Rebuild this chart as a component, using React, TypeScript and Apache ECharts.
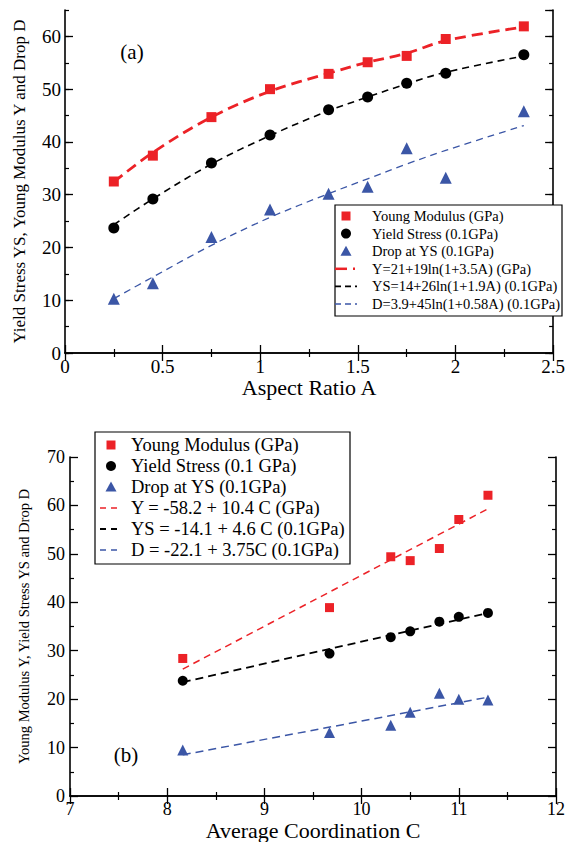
import React, { useEffect, useRef } from "react";
import * as echarts from "echarts";

// ---- Panel (a): vs aspect ratio A ----
const aspectRatio = [0.25, 0.45, 0.75, 1.05, 1.35, 1.55, 1.75, 1.95, 2.35];
const youngA = [32.5, 37.4, 44.7, 50.0, 52.9, 55.1, 56.3, 59.5, 61.9];
const yieldA = [23.7, 29.2, 36.0, 41.3, 46.1, 48.5, 51.1, 53.0, 56.5];
const dropA = [10.3, 13.2, 22.0, 27.2, 30.2, 31.5, 38.8, 33.2, 45.8];
const youngFitA = [32.4, 38.0, 44.7, 49.6, 53.0, 55.1, 56.8, 59.2, 61.8];
const yieldFitA = [24.3, 29.2, 35.8, 41.2, 45.9, 48.5, 51.0, 53.2, 56.3];
const dropFitA = [10.3, 14.4, 20.4, 25.7, 30.2, 33.0, 35.8, 38.4, 43.1];

// ---- Panel (b): vs average coordination C ----
const coordC = [8.16, 9.67, 10.3, 10.5, 10.8, 11.0, 11.3];
const youngC = [28.4, 38.9, 49.4, 48.6, 51.1, 57.1, 62.1];
const yieldC = [23.8, 29.4, 32.8, 34.0, 36.0, 37.0, 37.8];
const dropC = [9.5, 13.1, 14.6, 17.3, 21.2, 20.0, 19.8];
const fitC = [8.16, 11.3];
const youngFitC = [26.2, 59.3];
const yieldFitC = [23.5, 37.8];
const dropFitC = [8.5, 20.4];

const legendA = [
  "Young Modulus (GPa)",
  "Yield Stress (0.1GPa)",
  "Drop at YS (0.1GPa)",
  "Y=21+19ln(1+3.5A) (GPa)",
  "YS=14+26ln(1+1.9A) (0.1GPa)",
  "D=3.9+45ln(1+0.58A) (0.1GPa)",
];
const legendB = [
  "Young Modulus (GPa)",
  "Yield Stress (0.1 GPa)",
  "Drop at YS (0.1GPa)",
  "Y = -58.2 + 10.4 C (GPa)",
  "YS = -14.1 + 4.6 C (0.1GPa)",
  "D = -22.1 + 3.75C (0.1GPa)",
];

const RED = "#ec2227";
const BLUE = "#3b56a6";
const BLACK = "#000000";
const FONT = "Liberation Serif";

const zip = (xs: number[], ys: number[]) => xs.map((x, i) => [x, ys[i]]);

function legendGraphics(
  x0: number, y0: number, w: number, h: number,
  rowY: number, rowGap: number, symX: number, textX: number, fontSize: number,
  labels: string[], lineW: number[], lineDash: number[][], symSize: number, redDot: boolean
) {
  const els: any[] = [];
  els.push({
    type: "rect", z: 100,
    shape: { x: x0, y: y0, width: w, height: h },
    style: { fill: "#fff", stroke: "#000", lineWidth: 1.2 },
  });
  const colors = [RED, BLACK, BLUE, RED, BLACK, BLUE];
  labels.forEach((lab, i) => {
    const cy = rowY + i * rowGap;
    const s = symSize;
    if (i === 0) {
      els.push({ type: "rect", z: 101, shape: { x: symX - s / 2, y: cy - s / 2, width: s, height: s }, style: { fill: RED } });
    } else if (i === 1) {
      els.push({ type: "circle", z: 101, shape: { cx: symX, cy, r: s / 2 + 0.5 }, style: { fill: BLACK } });
    } else if (i === 2) {
      els.push({
        type: "polygon", z: 101,
        shape: { points: [[symX, cy - s / 2 - 1], [symX - s / 2 - 1, cy + s / 2], [symX + s / 2 + 1, cy + s / 2]] },
        style: { fill: BLUE },
      });
    } else {
      const k = i - 3;
      if (redDot && k === 0) {
        els.push({ type: "line", z: 101, shape: { x1: symX - 11, y1: cy, x2: symX + 1, y2: cy }, style: { stroke: RED, lineWidth: lineW[k] } });
        els.push({ type: "line", z: 101, shape: { x1: symX + 7, y1: cy, x2: symX + 9, y2: cy }, style: { stroke: RED, lineWidth: lineW[k] } });
      } else {
        els.push({
          type: "line", z: 101,
          shape: { x1: symX - 11, y1: cy, x2: symX + 11, y2: cy },
          style: { stroke: colors[i], lineWidth: lineW[k], lineDash: lineDash[k] },
        });
      }
    }
    els.push({
      type: "text", z: 101, x: textX, y: cy,
      style: { text: lab, fill: "#000", fontFamily: FONT, fontSize, verticalAlign: "middle", align: "left" },
    });
  });
  return els;
}

export default function App() {
  const ref = useRef<HTMLDivElement>(null);
  useEffect(() => {
    if (!ref.current) return;
    const chart = echarts.init(ref.current, undefined, { renderer: "svg" });

    const axisLine = { show: true, lineStyle: { color: "#000", width: 1.6 } };
    const labelStyle = { color: "#000", fontFamily: FONT, fontSize: 19 };
    const nameStyle = { color: "#000", fontFamily: FONT };

    const xBase = (gridIndex: number, position: string, min: number, max: number, interval: number, labels: boolean, extra: any = {}) => ({
      type: "value", gridIndex, position, min, max, interval,
      axisLine, splitLine: { show: false },
      axisTick: { show: true, inside: true, length: 8, lineStyle: { color: "#000", width: 1.3 } },
      minorTick: { show: true, splitNumber: 2, length: 4, lineStyle: { color: "#000", width: 1.2 } },
      axisLabel: labels ? { ...labelStyle, margin: 4 } : { show: false },
      ...extra,
    });

    const option: any = {
      animation: false,
      backgroundColor: "#fff",
      textStyle: { fontFamily: FONT },
      grid: [
        { left: 65, top: 10, width: 492, height: 343, show: false },
        { left: 70, top: 457, width: 492, height: 343, show: false },
      ],
      xAxis: [
        xBase(0, "bottom", 0, 2.5, 0.5, true, {
          name: "Aspect Ratio A", nameLocation: "middle", nameGap: 21,
          nameTextStyle: { ...nameStyle, fontSize: 22 },
        }),
        xBase(0, "top", 0, 2.5, 0.5, false),
        xBase(1, "bottom", 7, 12, 1, true, {
          name: "Average Coordination C", nameLocation: "middle", nameGap: 23,
          nameTextStyle: { ...nameStyle, fontSize: 22 },
          axisLabel: { ...labelStyle, fontSize: 18, margin: 4 },
        }),
        xBase(1, "top", 7, 12, 1, false),
      ],
      yAxis: [
        {
          ...xBase(0, "left", 0, 65, 10, true, {
            name: "Yield Stress YS, Young Modulus Y and Drop D", nameLocation: "middle", nameGap: 37,
            nameTextStyle: { ...nameStyle, fontSize: 17 },
          }),
          minorTick: { show: false },
          axisLabel: { ...labelStyle, margin: 4, showMaxLabel: false },
        },
        {
          ...xBase(0, "left", 0, 65, 5, false),
          axisLine: { show: false },
          minorTick: { show: false },
          axisTick: { show: true, inside: true, length: 4, lineStyle: { color: "#000", width: 1.2 } },
        },
        { ...xBase(0, "right", 0, 65, 10, false), minorTick: { show: false } },
        {
          ...xBase(0, "right", 0, 65, 5, false),
          axisLine: { show: false },
          minorTick: { show: false },
          axisTick: { show: true, inside: true, length: 4, lineStyle: { color: "#000", width: 1.2 } },
        },
        xBase(1, "left", 0, 70, 10, true, {
          name: "Young Modulus Y, Yield Stress YS and Drop D", nameLocation: "middle", nameGap: 39,
          nameTextStyle: { ...nameStyle, fontSize: 14.5 },
          axisLabel: { ...labelStyle, fontSize: 18, margin: 5 },
        }),
        xBase(1, "right", 0, 70, 10, false),
      ],
      series: [
        // panel (a) fits
        { type: "line", name: legendA[3], xAxisIndex: 0, yAxisIndex: 0, data: zip(aspectRatio, youngFitA), smooth: 0.35, showSymbol: false, symbol: "none", lineStyle: { color: RED, width: 2.8, type: [11, 6] }, z: 2 },
        { type: "line", name: legendA[4], xAxisIndex: 0, yAxisIndex: 0, data: zip(aspectRatio, yieldFitA), smooth: 0.35, showSymbol: false, symbol: "none", lineStyle: { color: BLACK, width: 1.6, type: [7, 5] }, z: 2 },
        { type: "line", name: legendA[5], xAxisIndex: 0, yAxisIndex: 0, data: zip(aspectRatio, dropFitA), smooth: 0.35, showSymbol: false, symbol: "none", lineStyle: { color: BLUE, width: 1.3, type: [7, 5] }, z: 2 },
        // panel (a) points
        { type: "scatter", name: legendA[0], xAxisIndex: 0, yAxisIndex: 0, data: zip(aspectRatio, youngA), symbol: "rect", symbolSize: 10, itemStyle: { color: RED, opacity: 1 }, z: 3 },
        { type: "scatter", name: legendA[1], xAxisIndex: 0, yAxisIndex: 0, data: zip(aspectRatio, yieldA), symbol: "circle", symbolSize: 11, itemStyle: { color: BLACK, opacity: 1 }, z: 3 },
        { type: "scatter", name: legendA[2], xAxisIndex: 0, yAxisIndex: 0, data: zip(aspectRatio, dropA), symbol: "triangle", symbolSize: 12, itemStyle: { color: BLUE, opacity: 1 }, z: 3 },
        // panel (b) fits
        { type: "line", name: legendB[3], xAxisIndex: 2, yAxisIndex: 4, data: zip(fitC, youngFitC), showSymbol: false, symbol: "none", lineStyle: { color: RED, width: 1.5, type: [7, 5] }, z: 2 },
        { type: "line", name: legendB[4], xAxisIndex: 2, yAxisIndex: 4, data: zip(fitC, yieldFitC), showSymbol: false, symbol: "none", lineStyle: { color: BLACK, width: 1.8, type: [8, 5] }, z: 2 },
        { type: "line", name: legendB[5], xAxisIndex: 2, yAxisIndex: 4, data: zip(fitC, dropFitC), showSymbol: false, symbol: "none", lineStyle: { color: BLUE, width: 1.5, type: [8, 5] }, z: 2 },
        // panel (b) points
        { type: "scatter", name: "Young Modulus (GPa) ", xAxisIndex: 2, yAxisIndex: 4, data: zip(coordC, youngC), symbol: "rect", symbolSize: 9, itemStyle: { color: RED, opacity: 1 }, z: 3 },
        { type: "scatter", name: legendB[1], xAxisIndex: 2, yAxisIndex: 4, data: zip(coordC, yieldC), symbol: "circle", symbolSize: 10, itemStyle: { color: BLACK, opacity: 1 }, z: 3 },
        { type: "scatter", name: "Drop at YS (0.1GPa) ", xAxisIndex: 2, yAxisIndex: 4, data: zip(coordC, dropC), symbol: "triangle", symbolSize: 11, itemStyle: { color: BLUE, opacity: 1 }, z: 3 },
      ],
      graphic: [
        { type: "text", x: 132, y: 52, z: 50, style: { text: "(a)", fontFamily: FONT, fontSize: 21, fill: "#000", align: "center", verticalAlign: "middle" } },
        { type: "text", x: 126, y: 755, z: 50, style: { text: "(b)", fontFamily: FONT, fontSize: 21, fill: "#000", align: "center", verticalAlign: "middle" } },
        ...legendGraphics(335, 205, 227, 111, 216, 17.6, 346, 372, 14.5, legendA, [2.5, 1.8, 1.5], [[], [6, 4], [6, 4]], 9, true),
        ...legendGraphics(95, 432, 255, 132, 445, 21, 111, 131, 18.5, legendB, [1.5, 1.8, 1.5], [[6, 5], [6, 5], [6, 5]], 9, false),
      ],
    };
    chart.setOption(option);
    return () => chart.dispose();
  }, []);
  return (
    <div
      ref={ref}
      style={{ position: "fixed", left: 0, top: 0, width: 568, height: 842, background: "#fff" }}
    />
  );
}
